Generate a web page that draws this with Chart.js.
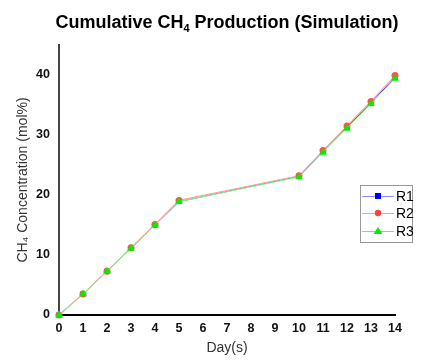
<!DOCTYPE html>
<html>
<head>
<meta charset="utf-8">
<script src="https://cdn.jsdelivr.net/npm/chart.js@4"></script>
<style>
  html, body { margin: 0; padding: 0; background: #fff; }
  #wrap { width: 425px; height: 360px; }
</style>
</head>
<body>
<div id="wrap"><canvas id="grafico" width="425" height="360"></canvas></div>
<script>
// dados
const dias = [0, 1, 2, 3, 4, 5, 10, 11, 12, 13, 14];
const r1 = [0, 3.5, 7.3, 11.1, 15.0, 18.9, 23.1, 27.3, 31.3, 35.4, 39.6];
const r2 = [0, 3.5, 7.3, 11.2, 15.1, 19.1, 23.2, 27.4, 31.5, 35.6, 39.9];
const r3 = [0, 3.5, 7.3, 11.1, 15.0, 18.9, 23.0, 27.1, 31.1, 35.2, 39.4];
const yTicks = [0, 10, 20, 30, 40];
const xTicks = [0, 1, 2, 3, 4, 5, 6, 7, 8, 9, 10, 11, 12, 13, 14];

const pontos = (vals) => vals.map((v, i) => ({ x: dias[i], y: v }));

// título com subscrito e legenda dentro da área
const extras = {
    id: 'extras',
    afterDraw(chart) {
        const c = chart.ctx;
        c.save();
        // título
        c.fillStyle = '#000';
        c.textBaseline = 'alphabetic';
        const big = 'bold 18px "Liberation Sans", Arial, sans-serif';
        const small = 'bold 11px "Liberation Sans", Arial, sans-serif';
        const parts = [['Cumulative CH', big, 0], ['4', small, 4], [' Production (Simulation)', big, 0]];
        let total = 0;
        parts.forEach(p => { c.font = p[1]; total += c.measureText(p[0]).width; });
        let x = 227 - total / 2;
        parts.forEach(p => {
            c.font = p[1];
            c.fillText(p[0], x, 28 + p[2]);
            x += c.measureText(p[0]).width;
        });

        // legenda
        c.strokeStyle = '#999';
        c.lineWidth = 1;
        c.strokeRect(360.5, 185.5, 52, 57);
        const itens = [
            { t: 'R1', y: 196, line: '#8c8cff', cor: '#0000ff', m: 'rect' },
            { t: 'R2', y: 213, line: '#ff9a9a', cor: '#ff4040', m: 'circle' },
            { t: 'R3', y: 231, line: '#66ee66', cor: '#00ee00', m: 'triangle' }
        ];
        itens.forEach(it => {
            c.strokeStyle = it.line;
            c.beginPath();
            c.moveTo(362, it.y + 0.5);
            c.lineTo(394, it.y + 0.5);
            c.stroke();
            c.fillStyle = it.cor;
            c.beginPath();
            if (it.m === 'rect') {
                c.rect(375, it.y - 3, 6, 6);
            } else if (it.m === 'circle') {
                c.arc(378, it.y, 3.2, 0, Math.PI * 2);
            } else {
                c.moveTo(378, it.y - 4);
                c.lineTo(382.5, it.y + 3);
                c.lineTo(373.5, it.y + 3);
                c.closePath();
            }
            c.fill();
            c.fillStyle = '#000';
            c.font = '14px "Liberation Sans", Arial, sans-serif';
            c.textBaseline = 'middle';
            c.fillText(it.t, 396, it.y + 1);
        });
        c.restore();
    }
};

new Chart(document.getElementById('grafico').getContext('2d'), {
    type: 'line',
    data: {
        datasets: [
            {
                label: 'R1',
                data: pontos(r1),
                borderColor: '#4040ff',
                backgroundColor: '#0000ff',
                borderWidth: 1,
                pointStyle: 'rect',
                pointRadius: 3.5,
                pointBorderWidth: 0,
                clip: false,
                order: 3
            },
            {
                label: 'R2',
                data: pontos(r2),
                borderColor: '#ffa0a0',
                backgroundColor: '#ff5050',
                borderWidth: 1.2,
                pointStyle: 'circle',
                pointRadius: 3.5,
                pointBorderWidth: 0,
                clip: false,
                order: 2
            },
            {
                label: 'R3',
                data: pontos(r3),
                borderColor: '#80ff80',
                backgroundColor: '#00ee00',
                borderWidth: 1,
                pointStyle: 'triangle',
                pointRadius: 4.5,
                pointBorderWidth: 0,
                clip: false,
                order: 1
            }
        ]
    },
    options: {
        responsive: false,
        animation: false,
        layout: { padding: { top: 45, right: 30, bottom: 0, left: 11 } },
        plugins: {
            legend: { display: false },
            tooltip: { enabled: false },
            title: { display: false }
        },
        scales: {
            x: {
                type: 'linear',
                min: 0,
                max: 14,
                grid: { display: false, drawTicks: false },
                border: { color: '#000', width: 2 },
                afterBuildTicks: (s) => { s.ticks = xTicks.map(v => ({ value: v })); },
                afterFit: (s) => { s.height = 45; },
                ticks: {
                    color: '#111',
                    padding: 6,
                    maxRotation: 0,
                    autoSkip: false,
                    font: { family: '"Liberation Sans", Arial, sans-serif', size: 12.5, weight: 'bold' }
                },
                title: {
                    display: true,
                    text: 'Day(s)',
                    color: '#333',
                    padding: { top: 0, bottom: 3 },
                    font: { family: '"Liberation Sans", Arial, sans-serif', size: 14 }
                }
            },
            y: {
                min: 0,
                max: 45,
                grid: { display: false, drawTicks: false },
                border: { color: '#444', width: 2 },
                afterBuildTicks: (s) => { s.ticks = yTicks.map(v => ({ value: v })); },
                afterFit: (s) => { s.width = 48; },
                ticks: {
                    color: '#111',
                    padding: 9,
                    font: { family: '"Liberation Sans", Arial, sans-serif', size: 12.5, weight: 'bold' }
                },
                title: {
                    display: true,
                    text: 'CH₄ Concentration (mol%)',
                    color: '#333',
                    padding: { bottom: 6 },
                    font: { family: '"Liberation Sans", Arial, sans-serif', size: 14 }
                }
            }
        }
    },
    plugins: [extras]
});
</script>
</body>
</html>
